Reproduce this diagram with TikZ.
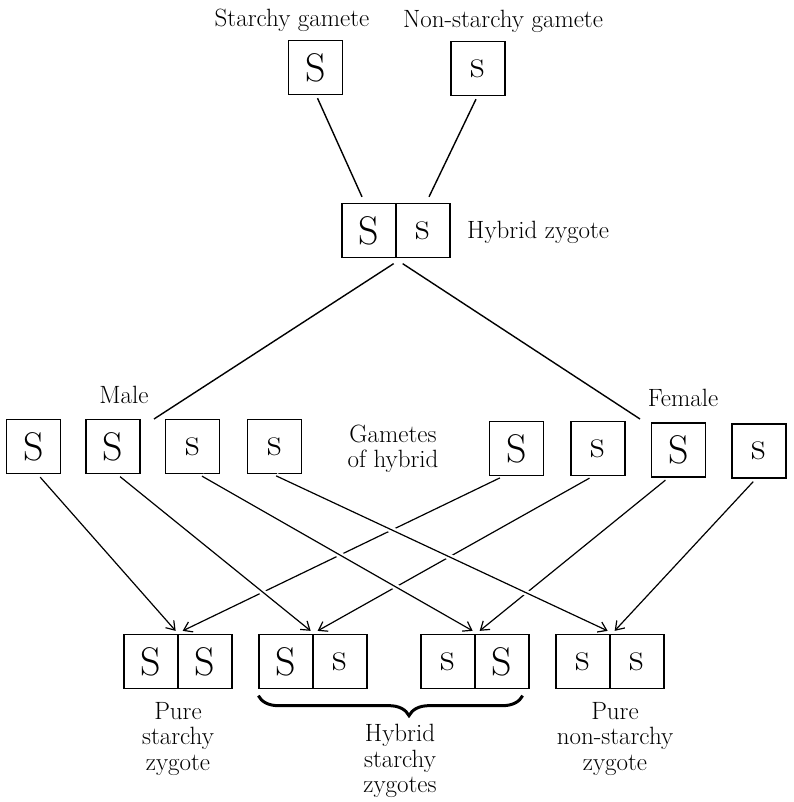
\documentclass[tikz,border=0pt]{standalone}
\usepackage{tikz}
\usetikzlibrary{arrows.meta,decorations.pathreplacing}

\begin{document}
\begin{tikzpicture}[x=1pt, y=-1pt,
    gam/.style={draw, line width=1.3pt, minimum size=54pt, inner sep=0pt, fill=white, font=\fontsize{40}{40}\selectfont},
    lbl/.style={font=\fontsize{25}{25.5}\selectfont, inner sep=0pt},
    link/.style={line width=1.4pt},
    arr/.style={line width=1.2pt, -{Straight Barb[length=8pt,width=11pt]}, shorten <=4pt},
    over/.style={preaction={draw=white, line width=6pt, -, shorten >=14pt}}]
    \useasboundingbox (0,0) rectangle (793,802);

    % Parent gametes
    \node[gam] (ps) at (315.5,67.5) {S};
    \node[gam] (pn) at (478,68.5) {s};
    \node[lbl, anchor=base] (tstarchy) at (292,27) {Starchy gamete};
    \node[lbl, anchor=base] (tnon) at (503,28) {Non-starchy gamete};

    % Hybrid zygote
    \node[gam] (h1) at (369,230.5) {S};
    \node[gam] (h2) at (423,230.5) {s};
    \node[lbl, anchor=base west] (thyb) at (467,238) {Hybrid zygote};
    \draw[link] ([xshift=2pt,yshift=-3pt]ps.south) -- ([xshift=-7pt,yshift=6pt]h1.north);
    \draw[link] ([xshift=-2pt,yshift=-3pt]pn.south) -- ([xshift=6pt,yshift=6pt]h2.north);

    % Gametes of hybrid
    \foreach \n/\x/\y/\t in {1/33.5/446.5/S, 2/113/446.5/S, 3/192.5/446.5/s, 4/274.5/446.5/s,
                             5/516.5/448.5/S, 6/598/448.5/s, 7/678.5/450/S, 8/759/451/s} {
        \node[gam] (g\n) at (\x,\y) {\t};
    }
    \node[lbl, anchor=base] (tmale) at (124,403) {Male};
    \node[lbl, anchor=base] (tfemale) at (683,406) {Female};
    \node[lbl, align=center] (tgam) at (393,449) {Gametes\\of hybrid};
    \coordinate (mtip) at (154,419);
    \coordinate (ftip) at (640,419);
    \draw[link] ([xshift=-3pt,yshift=-5.5pt]h1.south east) -- (mtip);
    \draw[link] ([xshift=6pt,yshift=-5.5pt]h1.south east) -- (ftip);

    % Zygotes
    \foreach \n/\x/\a/\b in {1/151/S/S, 2/286/S/s, 3/448/s/S, 4/583/s/s} {
        \node[gam] (zl\n) at (\x,661.5) {\a};
        \node[gam] (zr\n) at (\x+54,661.5) {\b};
    }
    \node[lbl, align=center] (tpure) at (178,739) {Pure\\starchy\\zygote};
    \node[lbl, align=center] (thz) at (400,761) {Hybrid\\starchy\\zygotes};
    \node[lbl, align=center] (tpn) at (615,739) {Pure\\non-starchy\\zygote};

    % Female gametes (underneath)
    \foreach \g/\dx/\z in {5/-13/1, 6/-5/2, 7/-10/3, 8/-3/4} {
        \draw[arr] ([xshift=\dx pt]g\g.south) -- ([xshift=4pt,yshift=3pt]zl\z.north east);
    }
    % Male gametes (over)
    \foreach \g/\dx/\z in {1/4/1, 2/4/2, 3/6/3, 4/-2/4} {
        \draw[arr, over] ([xshift=\dx pt]g\g.south) -- ([xshift=-3pt,yshift=3pt]zl\z.north east);
    }

    % Brace
    \draw[line width=3pt, decorate, decoration={brace, mirror, amplitude=20pt, aspect=0.57}]
        ([yshift=-6.5pt]zl2.south west) -- ([xshift=-7pt,yshift=-6.5pt]zr3.south east);
\end{tikzpicture}
\end{document}
